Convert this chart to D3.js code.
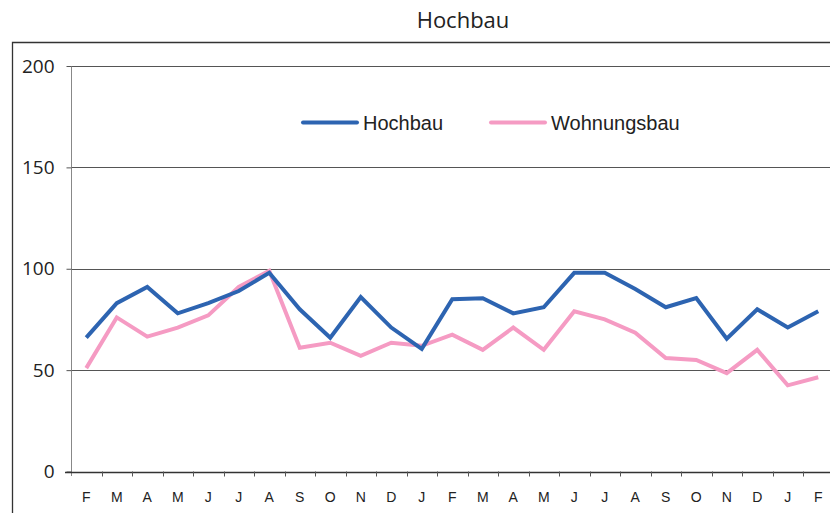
<!DOCTYPE html>
<html>
<head>
<meta charset="utf-8">
<script src="https://cdn.jsdelivr.net/npm/d3@7"></script>
<style>
  body { margin: 0; background: #fff; }
  svg { display: block; }
</style>
</head>
<body>
<svg id="chart" width="830" height="513"></svg>
<script>
'use strict';
/* Data
*/
var months = ['F', 'M', 'A', 'M', 'J', 'J', 'A', 'S', 'O', 'N', 'D', 'J',
              'F', 'M', 'A', 'M', 'J', 'J', 'A', 'S', 'O', 'N', 'D', 'J', 'F'];
var hochbau = [66, 83, 91, 78, 83, 89, 98, 80, 66, 86, 71, 60.5,
               85, 85.5, 78, 81, 98, 98, 90, 81, 85.5, 65.5, 80, 71, 79];
var wohnungsbau = [51, 76, 66.5, 71, 77, 91, 99, 61, 63.5, 57, 63.5, 62,
                   67.5, 60, 71, 60, 79, 75, 68.5, 56, 55, 48.5, 60, 42.5, 46.5];
var yTicks = [0, 50, 100, 150, 200];
var seriesNames = ['Hochbau', 'Wohnungsbau'];
var seriesColors = ['#2d64b1', '#f59bc3'];

var svg, x, y, line, plot;

svg = d3.select('#chart');

x = d3.scaleBand().domain(d3.range(months.length)).range([71, 71 + 25 * 30.5]);
y = d3.scaleLinear().domain([0, 200]).range([471.5, 66]);

// title
svg.append('text')
  .attr('x', 463).attr('y', 28)
  .attr('text-anchor', 'middle')
  .style('font-family', '"Open Sans", sans-serif')
  .style('font-size', '22px')
  .style('fill', '#222')
  .text('Hochbau');

// outer frame (runs off the right and bottom edge)
svg.append('path')
  .attr('d', 'M12.5,520V42.5H840')
  .attr('fill', 'none')
  .attr('stroke', '#333')
  .attr('stroke-width', 1.3);

// gridlines
svg.append('g').selectAll('line').data(yTicks.slice(1)).enter().append('line')
  .attr('x1', 71).attr('x2', 840)
  .attr('y1', function(d) { return Math.round(y(d)) + 0.5; })
  .attr('y2', function(d) { return Math.round(y(d)) + 0.5; })
  .attr('stroke', '#555')
  .attr('stroke-width', 1.2);

// y axis
var yAxis = svg.append('g')
  .attr('transform', 'translate(71.5,0)')
  .call(d3.axisLeft(y).tickValues(yTicks).tickSize(5).tickPadding(12));
yAxis.select('.domain').attr('stroke', '#888').attr('d', 'M0,66V476');
yAxis.selectAll('.tick line').attr('stroke', '#555');
yAxis.selectAll('.tick text')
  .style('font-family', '"Open Sans", sans-serif')
  .style('font-size', '19px')
  .style('fill', '#222');

// x axis
var xAxis = svg.append('g')
  .attr('transform', 'translate(0,' + (Math.round(y(0)) + 0.5) + ')')
  .call(d3.axisBottom(x).tickSize(0).tickPadding(20).tickFormat(function(i) { return months[i]; }));
xAxis.select('.domain').attr('stroke', '#333').attr('stroke-width', 1.3).attr('d', 'M65,0H840');
xAxis.selectAll('.tick text')
  .style('font-family', '"Liberation Sans", Arial, sans-serif')
  .style('font-size', '14px')
  .style('fill', '#222');
// ticks between categories
svg.append('g').selectAll('line').data(d3.range(1, months.length + 1)).enter().append('line')
  .attr('x1', function(i) { return Math.round(x(i) || (x(0) + i * x.step())) + 0.5; })
  .attr('x2', function(i) { return Math.round(x(i) || (x(0) + i * x.step())) + 0.5; })
  .attr('y1', y(0)).attr('y2', y(0) + 5)
  .attr('stroke', '#555');

// lines
line = d3.line()
  .x(function(d, i) { return x(i) + x.bandwidth() / 2; })
  .y(function(d) { return y(d); });

plot = svg.append('g');
[wohnungsbau, hochbau].forEach(function(values, k) {
  var idx = k === 0 ? 1 : 0;
  plot.append('path')
    .datum(values)
    .attr('d', line)
    .attr('fill', 'none')
    .attr('stroke', seriesColors[idx])
    .attr('stroke-width', 4)
    .attr('stroke-linejoin', 'miter');
});

// legend
var legendX = [303, 491];
var legend = svg.append('g').selectAll('g').data(seriesNames).enter().append('g')
  .attr('transform', function(d, i) { return 'translate(' + legendX[i] + ',122.5)'; });
legend.append('line')
  .attr('x1', 0).attr('x2', 54)
  .attr('stroke', function(d, i) { return seriesColors[i]; })
  .attr('stroke-width', 4)
  .attr('stroke-linecap', 'round');
legend.append('text')
  .attr('x', 60).attr('y', 7)
  .style('font-family', '"Liberation Sans", Arial, sans-serif')
  .style('font-size', '20px')
  .style('fill', '#222')
  .text(function(d) { return d; });
</script>
</body>
</html>
